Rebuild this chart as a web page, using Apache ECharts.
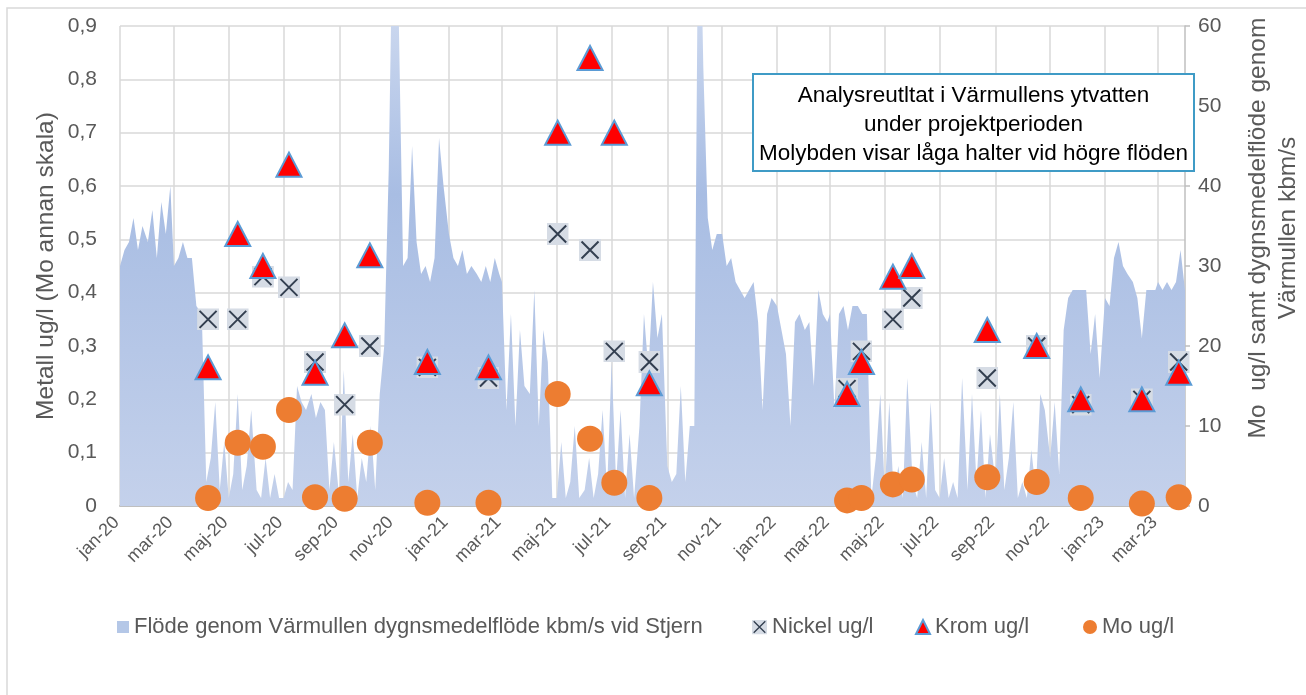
<!DOCTYPE html>
<html>
<head>
<meta charset="utf-8">
<script src="https://cdn.jsdelivr.net/npm/echarts@6/dist/echarts.min.js"></script>
<style>
  html, body { margin: 0; padding: 0; background: #fff; }
  #chart { width: 1306px; height: 695px; }
</style>
</head>
<body>
<div id="chart"></div>
<script>
// axis range + tick labels (every second month)
const xStart = '2020-01-01';
const xEnd = '2023-03-31';
const tickDates = [
  '2020-01-01', '2020-03-01', '2020-05-01', '2020-07-01', '2020-09-01', '2020-11-01',
  '2021-01-01', '2021-03-01', '2021-05-01', '2021-07-01', '2021-09-01', '2021-11-01',
  '2022-01-01', '2022-03-01', '2022-05-01', '2022-07-01', '2022-09-01', '2022-11-01',
  '2023-01-01', '2023-03-01'
];
const monthNames = ['jan', 'feb', 'mar', 'apr', 'maj', 'jun', 'jul', 'aug', 'sep', 'okt', 'nov', 'dec'];

// water samples
const sampleDates = [
  '2020-04-08', '2020-05-11', '2020-06-08', '2020-07-07', '2020-08-05', '2020-09-07',
  '2020-10-05', '2020-12-08', '2021-02-14', '2021-05-02', '2021-06-07', '2021-07-04',
  '2021-08-12', '2022-03-20', '2022-04-05', '2022-05-10', '2022-05-31', '2022-08-23',
  '2022-10-17', '2022-12-05', '2023-02-11', '2023-03-24'
];
const nickel = [0.35, 0.35, 0.43, 0.41, 0.27, 0.19, 0.30, 0.26, 0.24, 0.51, 0.48, 0.29,
  0.27, 0.22, 0.29, 0.35, 0.39, 0.24, 0.30, 0.19, 0.20, 0.27];
const krom = [0.26, 0.51, 0.45, 0.64, 0.25, 0.32, 0.47, 0.27, 0.26, 0.70, 0.84, 0.70,
  0.23, 0.21, 0.27, 0.43, 0.45, 0.33, 0.30, 0.20, 0.20, 0.25];
const mo = [1.0, 7.9, 7.4, 12.0, 1.1, 0.9, 7.9, 0.4, 0.4, 14.0, 8.4, 2.9,
  1.0, 0.7, 1.0, 2.7, 3.3, 3.6, 3.0, 1.0, 0.3, 1.1];

// daily mean flow (kbm/s), read on days 1,6,11,16,21,26 of every month
const flowDays = [1, 6, 11, 16, 21, 26];
const flow2020 = [
  30, 32, 33, 36, 32, 35,   33, 37, 31, 38, 34, 40,   30, 31, 33, 31, 31, 25,
  24, 3, 6, 13, 2, 8,       1, 4, 14, 2, 5, 12,       2, 1, 6, 1, 4, 1,
  1, 3, 2, 15, 13, 12,      14, 11, 13, 12, 2, 8,     1, 17, 3, 9, 1, 6,
  3, 10, 2, 14, 20, 42,     85, 62, 30, 31, 45, 33,   29, 30, 28, 31, 46, 40
];
const flow2021 = [
  34, 31, 30, 32, 29, 30,   29, 28, 30, 28, 31, 29,   28, 12, 24, 10, 22, 15,
  14, 27, 10, 22, 18, 1,    1, 8, 1, 3, 10, 1,        2, 6, 1, 4, 12, 2,
  18, 3, 12, 1, 9, 1,       10, 24, 17, 28, 21, 24,   5, 3, 4, 15, 3, 10,
  10, 85, 55, 36, 32, 34,   34, 30, 31, 28, 27, 26,   27, 28, 23, 12, 24, 26
];
const flow2022 = [
  25, 22, 19, 10, 23, 24,   22, 23, 15, 27, 24, 23,   24, 12, 24, 25, 22, 25,
  25, 24, 24, 1, 6, 14,     2, 13, 1, 5, 1, 16,       3, 1, 8, 1, 13, 2,
  1, 6, 1, 3, 1, 16,        2, 14, 3, 12, 1, 9,       3, 14, 2, 6, 13, 1,
  3, 1, 7, 2, 14, 12,       6, 13, 4, 22, 26, 27,     27, 27, 27, 19, 24, 16
];
const flow2023 = [
  26, 25, 31, 33, 30, 29,   28, 26, 21, 27, 27, 27,   28, 27, 28, 27, 28, 32
];
const flowLastDate = '2023-03-31';
const flowLastValue = 27;

const flowName = 'Flöde genom Värmullen dygnsmedelflöde kbm/s vid Stjern';
const nickelName = 'Nickel ug/l';
const kromName = 'Krom ug/l';
const moName = 'Mo ug/l';

const FONT = '"Liberation Sans", Arial, sans-serif';
const GREY = '#595959';

function toTime(s) {
  const p = s.split('-').map(Number);
  return new Date(p[0], p[1] - 1, p[2]).getTime();
}

function flowPoints(year, values) {
  return values.map((v, i) => {
    const m = Math.floor(i / flowDays.length);
    const d = flowDays[i % flowDays.length];
    return [new Date(year, m, d).getTime(), v];
  });
}

const flowData = [].concat(
  flowPoints(2020, flow2020),
  flowPoints(2021, flow2021),
  flowPoints(2022, flow2022),
  flowPoints(2023, flow2023),
  [[toTime(flowLastDate), flowLastValue]]
);
const tickValues = tickDates.map(toTime);
const pair = (vals) => sampleDates.map((d, i) => [toTime(d), vals[i]]);

const nickelSvg =
  "<svg xmlns='http://www.w3.org/2000/svg' width='44' height='44' viewBox='0 0 22 22'>" +
  "<rect width='22' height='22' fill='#d6dce5'/>" +
  "<path d='M2.5 2.5L19.5 19.5M19.5 2.5L2.5 19.5' stroke='#333f50' stroke-width='2' fill='none'/></svg>";
const nickelSymbol = 'image://data:image/svg+xml;base64,' + btoa(nickelSvg);

const chart = echarts.init(document.getElementById('chart'));

const legendText = { color: GREY, fontSize: 22, fontFamily: FONT };

const option = {
  animation: false,
  backgroundColor: '#fff',
  grid: { left: 120, right: 121, top: 26, bottom: 189, containLabel: false, outerBoundsMode: 'none' },
  xAxis: {
    // timestamps on a plain value axis so the two-month ticks can be set exactly
    type: 'value',
    min: toTime(xStart),
    max: toTime(xEnd),
    axisLine: { onZero: false, lineStyle: { color: '#bfbfbf', width: 2 } },
    axisTick: { show: false, customValues: tickValues },
    axisLabel: {
      customValues: tickValues,
      rotate: 45,
      margin: 10,
      padding: [0, 5, 0, 0],
      hideOverlap: false,
      color: GREY,
      fontSize: 18,
      fontFamily: FONT,
      formatter: (v) => {
        const d = new Date(v);
        return monthNames[d.getMonth()] + '-' + String(d.getFullYear()).slice(2);
      }
    },
    splitLine: { show: true, lineStyle: { color: '#d9d9d9', width: 1.5 } }
  },
  yAxis: [
    {
      type: 'value',
      position: 'left',
      min: 0,
      max: 0.9,
      interval: 0.1,
      axisLine: { show: false },
      axisTick: { show: false },
      axisLabel: {
        margin: 23,
        color: GREY,
        fontSize: 21,
        fontFamily: FONT,
        formatter: (v) => (v === 0 ? '0' : v.toFixed(1).replace('.', ','))
      },
      splitLine: { show: true, lineStyle: { color: '#d9d9d9', width: 1.5 } }
    },
    {
      type: 'value',
      position: 'right',
      min: 0,
      max: 60,
      interval: 10,
      axisLine: { show: true, lineStyle: { color: '#bfbfbf', width: 1.5 } },
      axisTick: { show: true, length: 5, lineStyle: { color: '#bfbfbf', width: 1.5 } },
      axisLabel: { margin: 13, color: GREY, fontSize: 21, fontFamily: FONT },
      splitLine: { show: false }
    }
  ],
  legend: [
    {
      data: [{ name: flowName, icon: 'rect', itemStyle: { color: '#b4c7e7' } }],
      left: 117, top: 616, padding: 0, itemWidth: 12, itemHeight: 12,
      selectedMode: false, textStyle: legendText
    },
    {
      data: [nickelName],
      left: 752, top: 616, padding: 0, itemWidth: 15, itemHeight: 15,
      selectedMode: false, textStyle: legendText
    },
    {
      data: [kromName],
      left: 915, top: 616, padding: 0, itemWidth: 14, itemHeight: 14,
      selectedMode: false, textStyle: legendText
    },
    {
      data: [moName],
      left: 1083, top: 616, padding: 0, itemWidth: 14, itemHeight: 14,
      selectedMode: false, textStyle: legendText
    }
  ],
  graphic: [
    {
      type: 'rect', z: 0, silent: true,
      shape: { x: 7, y: 8, width: 1310, height: 700 },
      style: { fill: 'none', stroke: '#d9d9d9', lineWidth: 1.5 }
    },
    {
      type: 'text', z: 100, silent: true,
      x: 46, y: 266, rotation: Math.PI / 2,
      style: {
        text: 'Metall ug/l (Mo annan skala)',
        font: '24.5px ' + FONT, fill: GREY,
        textAlign: 'center', textVerticalAlign: 'middle', align: 'center', verticalAlign: 'middle'
      }
    },
    {
      type: 'text', z: 100, silent: true,
      x: 1273, y: 228, rotation: Math.PI / 2,
      style: {
        text: 'Mo  ug/l samt dygnsmedelflöde genom\nVärmullen kbm/s',
        font: '24.5px ' + FONT, fill: GREY, lineHeight: 30,
        textAlign: 'center', textVerticalAlign: 'middle', align: 'center', verticalAlign: 'middle'
      }
    },
    {
      type: 'rect', z: 100, silent: true,
      shape: { x: 753, y: 74, width: 441, height: 97 },
      style: { fill: '#fff', stroke: '#3f9bc6', lineWidth: 2 }
    },
    {
      type: 'text', z: 101, silent: true,
      x: 973.5, y: 125,
      style: {
        text: 'Analysreutltat i Värmullens ytvatten\nunder projektperioden\nMolybden visar låga halter vid högre flöden',
        font: '22.5px ' + FONT, fill: '#000', lineHeight: 29,
        textAlign: 'center', textVerticalAlign: 'middle', align: 'center', verticalAlign: 'middle'
      }
    }
  ],
  series: [
    {
      name: flowName,
      type: 'line',
      z: 1,
      yAxisIndex: 1,
      data: flowData,
      symbol: 'none',
      showSymbol: false,
      silent: true,
      clip: true,
      itemStyle: { color: '#b4c7e7' },
      lineStyle: { width: 0 },
      areaStyle: {
        opacity: 1,
        color: new echarts.graphic.LinearGradient(0, 26, 0, 506, [
          { offset: 0, color: '#c9d6ee' },
          { offset: 0.35, color: '#a8bde3' },
          { offset: 1, color: '#c4d1eb' }
        ], true)
      }
    },
    {
      name: nickelName,
      type: 'scatter',
      z: 3,
      yAxisIndex: 0,
      data: pair(nickel),
      symbol: nickelSymbol,
      symbolSize: 22,
      itemStyle: { opacity: 1 }
    },
    {
      name: kromName,
      type: 'scatter',
      z: 4,
      yAxisIndex: 0,
      data: pair(krom),
      symbol: 'triangle',
      symbolSize: [25, 24],
      itemStyle: { color: '#ff0000', borderColor: '#5b9bd5', borderWidth: 2, opacity: 1 }
    },
    {
      name: moName,
      type: 'scatter',
      z: 5,
      yAxisIndex: 1,
      data: pair(mo),
      symbol: 'circle',
      symbolSize: 26,
      itemStyle: { color: '#ed7d31', opacity: 1 }
    }
  ]
};

chart.setOption(option);
</script>
</body>
</html>
